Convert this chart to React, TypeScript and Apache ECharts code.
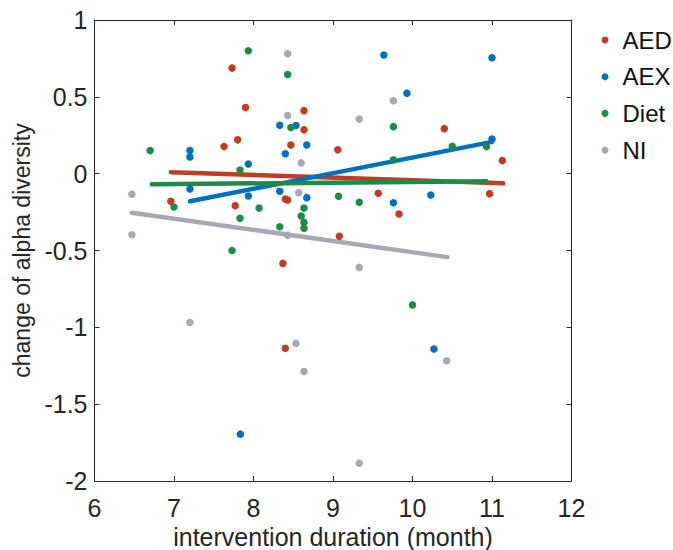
import React, { useEffect, useRef } from "react";
import * as echarts from "echarts";

const seriesNames = ["AED", "AEX", "Diet", "NI"];
const colors = ["#c23b22", "#0072bd", "#1f8a4c", "#a9a9b4"];

const aedPoints: [number, number][] = [
  [7.73, 0.687], [7.9, 0.43], [8.635, 0.41], [8.635, 0.285], [7.8, 0.22], [7.63, 0.176],
  [8.47, 0.187], [9.06, 0.155], [8.4, -0.165], [8.43, -0.171], [6.96, -0.18], [7.77, -0.208],
  [9.08, -0.407], [10.4, 0.293], [11.13, 0.085], [9.57, -0.128], [10.97, -0.13], [9.83, -0.263],
  [8.37, -0.584], [8.4, -1.136],
];
const aexPoints: [number, number][] = [
  [8.33, 0.315], [8.535, 0.313], [8.67, 0.187], [8.4, 0.13], [7.2, 0.15], [7.2, 0.109],
  [7.935, 0.063], [7.2, -0.1], [8.33, -0.115], [7.935, -0.145], [8.67, -0.156], [9.64, 0.772],
  [11.0, 0.754], [9.93, 0.524], [11.0, 0.226], [9.76, -0.189], [10.23, -0.139], [7.835, -1.695],
  [10.27, -1.141],
];
const dietPoints: [number, number][] = [
  [7.935, 0.8], [8.43, 0.645], [8.47, 0.3], [6.7, 0.15], [7.83, 0.024], [7.0, -0.217],
  [8.07, -0.224], [8.635, -0.224], [7.83, -0.29], [8.6, -0.276], [8.635, -0.317], [8.635, -0.356],
  [8.33, -0.345], [7.73, -0.5], [9.76, 0.306], [10.5, 0.178], [10.93, 0.176], [9.76, 0.091],
  [9.07, -0.147], [9.33, -0.186], [10.0, -0.854],
];
const niPoints: [number, number][] = [
  [8.43, 0.78], [8.43, 0.378], [8.6, 0.07], [6.47, -0.134], [8.57, -0.124], [8.43, -0.4],
  [6.47, -0.398], [9.33, 0.355], [9.76, 0.474], [7.2, -0.969], [8.535, -1.104], [8.635, -1.288],
  [9.33, -0.61], [10.43, -1.217], [9.33, -1.884],
];

const aedFit: [number, number][] = [[6.96, 0.009], [11.14, -0.063]];
const aexFit: [number, number][] = [[7.2, -0.18], [11.0, 0.207]];
const dietFit: [number, number][] = [[6.72, -0.069], [10.93, -0.05]];
const niFit: [number, number][] = [[6.47, -0.254], [10.44, -0.543]];

const xTicks = { min: 6, max: 12, interval: 1 };
const yTicks = { min: -2, max: 1, interval: 0.5 };

const FONT = "Liberation Sans";
const AXIS_COLOR = "#262626";

export default function App() {
  const ref = useRef<HTMLDivElement>(null);
  useEffect(() => {
    if (!ref.current) return;
    const chart = echarts.init(ref.current, undefined, { renderer: "svg" });
    const pointSets = [aedPoints, aexPoints, dietPoints, niPoints];
    const fits = [aedFit, aexFit, dietFit, niFit];
    const lineSeries = fits.map((f, i) => ({
      name: seriesNames[i] + " fit",
      type: "line",
      data: f,
      symbol: "none",
      lineStyle: { color: colors[i], width: 4.5, cap: "round" },
      z: 2,
      silent: true,
    }));
    const scatterSeries = pointSets.map((p, i) => ({
      name: seriesNames[i],
      type: "scatter",
      data: p,
      symbol: "circle",
      symbolSize: 7.5,
      itemStyle: { color: colors[i], opacity: 1 },
      z: 3,
    }));
    const axisCommon = {
      axisLine: { show: true, onZero: false, lineStyle: { color: AXIS_COLOR, width: 1 } },
      axisTick: { show: true, inside: true, length: 5, lineStyle: { color: AXIS_COLOR } },
      splitLine: { show: false },
    };
    chart.setOption({
      animation: false,
      textStyle: { fontFamily: FONT },
      grid: { left: 94.5, top: 20, width: 477, height: 461, containLabel: false, outerBoundsMode: "none" },
      legend: {
        data: seriesNames,
        orient: "vertical",
        left: 596.5,
        top: 23,
        icon: "circle",
        itemWidth: 7,
        itemHeight: 7,
        itemGap: 12.7,
        textStyle: { fontFamily: FONT, fontSize: 24, color: "#111", lineHeight: 24, padding: [0, 0, 0, 9] },
      },
      xAxis: [
        {
          type: "value",
          position: "bottom",
          ...xTicks,
          ...axisCommon,
          axisLabel: { fontFamily: FONT, fontSize: 25, color: AXIS_COLOR, margin: 14 },
          name: "intervention duration (month)",
          nameLocation: "middle",
          nameGap: 40,
          nameTextStyle: { fontFamily: FONT, fontSize: 25, lineHeight: 25, color: AXIS_COLOR },
        },
        {
          type: "value",
          position: "top",
          ...xTicks,
          ...axisCommon,
          axisLabel: { show: false },
        },
      ],
      yAxis: [
        {
          type: "value",
          position: "left",
          ...yTicks,
          ...axisCommon,
          axisLabel: { fontFamily: FONT, fontSize: 25, color: AXIS_COLOR, margin: 7 },
          name: "change of alpha diversity",
          nameLocation: "middle",
          nameGap: 53,
          nameTextStyle: { fontFamily: FONT, fontSize: 23, color: AXIS_COLOR },
        },
        {
          type: "value",
          position: "right",
          ...yTicks,
          ...axisCommon,
          axisLabel: { show: false },
        },
      ],
      series: [...lineSeries, ...scatterSeries],
    });
    return () => chart.dispose();
  }, []);
  return <div ref={ref} style={{ width: 673, height: 550, position: "absolute", left: 0, top: 0, background: "#fff" }} />;
}
